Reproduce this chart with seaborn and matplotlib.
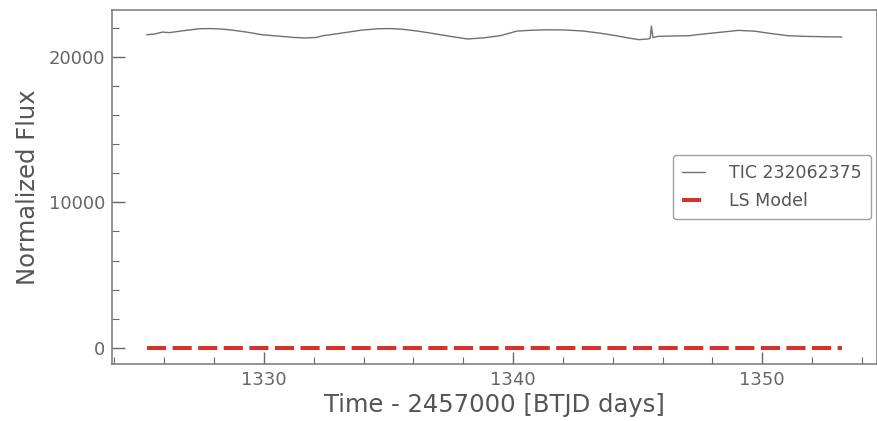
import matplotlib
matplotlib.use("Agg")
import matplotlib.pyplot as plt
from matplotlib.ticker import MultipleLocator
import pandas as pd
import seaborn as sns

# Light curve samples (BTJD - 2457000, flux)
time = [1325.30, 1325.60, 1325.94, 1326.20, 1326.80, 1327.41, 1327.80, 1328.13,
        1328.60, 1329.30, 1329.92, 1330.60, 1331.20, 1331.67, 1332.10, 1332.40,
        1332.59, 1333.20, 1333.90, 1334.58, 1335.00, 1335.50, 1336.20, 1336.85,
        1337.50, 1338.17, 1338.80, 1339.48, 1340.16, 1340.80, 1341.47, 1342.10,
        1342.83, 1343.50, 1344.14, 1344.60, 1345.06, 1345.40, 1345.50, 1345.55,
        1345.61, 1345.80, 1346.40, 1347.05, 1347.73, 1348.40, 1349.04, 1349.70,
        1350.40, 1351.04, 1351.80, 1352.50, 1353.19]
flux = [21517, 21560, 21700, 21660, 21800, 21925, 21940, 21925,
        21860, 21700, 21517, 21420, 21330, 21293, 21330, 21460,
        21497, 21650, 21830, 21925, 21940, 21905, 21760, 21585,
        21400, 21225, 21300, 21449, 21769, 21830, 21857, 21840,
        21769, 21620, 21449, 21300, 21177, 21225, 21260, 22109,
        21320, 21400, 21430, 21449, 21585, 21700, 21816, 21760,
        21585, 21449, 21400, 21380, 21360]

# Lomb-Scargle model, evaluated in normalized units
model_time = [1325.30, 1332.30, 1339.30, 1346.30, 1353.19]
model_flux = [1.0, 1.0, 1.0, 1.0, 1.0]

sns.set_style("ticks")
plt.rcParams["font.family"] = ["DejaVu Sans"]

lc = pd.DataFrame({"time": time, "flux": flux})
ls = pd.DataFrame({"time": model_time, "flux": model_flux})

fig = plt.figure(figsize=(8.77, 4.21), dpi=100)
ax = fig.add_axes([0.1277, 0.1354, 0.8718, 0.8408])

sns.lineplot(data=lc, x="time", y="flux", ax=ax, color="#707070", lw=1.0,
             label="TIC 232062375", sort=False, estimator=None)
sns.lineplot(data=ls, x="time", y="flux", ax=ax, color="#d6322c", lw=2.9,
             label="LS Model", dashes=False, sort=False, estimator=None)
ax.lines[1].set_dashes((4.75, 1.6))
ax.lines[1].set_dash_capstyle("butt")

ax.set_xlabel("Time - 2457000 [BTJD days]", fontsize=17.5, color="#555555", labelpad=3)
ax.set_ylabel("Normalized Flux", fontsize=17.5, color="#555555", labelpad=6)

ax.xaxis.set_major_locator(MultipleLocator(10))
ax.xaxis.set_minor_locator(MultipleLocator(2))
ax.yaxis.set_major_locator(MultipleLocator(10000))
ax.yaxis.set_minor_locator(MultipleLocator(2000))
ax.tick_params(which="both", direction="in", colors="#666666", labelcolor="#666666",
               labelsize=13, top=False, right=False)
ax.tick_params(which="major", length=9, width=1.0, pad=5)
ax.tick_params(which="minor", length=5, width=0.8)

for side, sp in ax.spines.items():
    sp.set_visible(True)
    sp.set_color("#777777")
    sp.set_linewidth(1.1)

leg = ax.legend(loc="center right", fontsize=12.5, frameon=True, fancybox=True,
                borderaxespad=0.3, handlelength=1.3, handletextpad=1.4,
                labelspacing=0.55, borderpad=0.55)
leg.get_frame().set_edgecolor("#888888")
leg.get_frame().set_linewidth(1.0)
for t in leg.get_texts():
    t.set_color("#555555")

fig.savefig("out.png", dpi=100)
